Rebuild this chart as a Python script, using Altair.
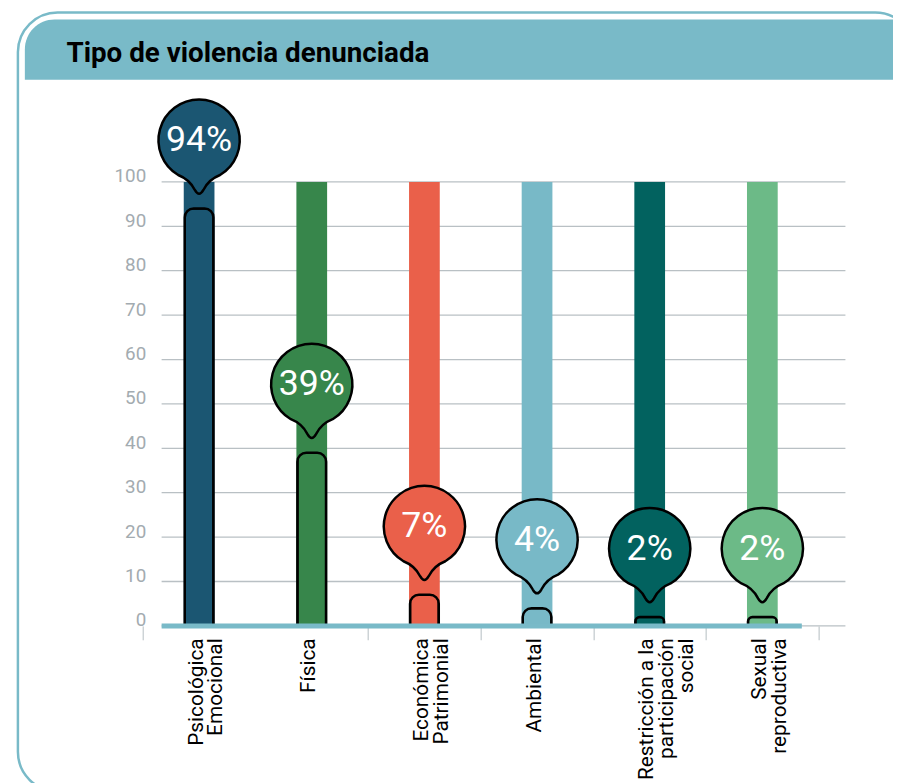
import math
import altair as alt
import pandas as pd

# ---------------- data ----------------
TITLE = "Tipo de violencia denunciada"
categories = [
    "Psicológica\nEmocional",
    "Física",
    "Económica\nPatrimonial",
    "Ambiental",
    "Restricción a la\nparticipación\nsocial",
    "Sexual\nreproductiva",
]
values = [94, 39, 7, 4, 2, 2]
value_labels = ["94%", "39%", "7%", "4%", "2%", "2%"]
colors = ["#1b5672", "#37864b", "#ea604a", "#78b9c7", "#02625f", "#6cba87"]
y_ticks = [0, 10, 20, 30, 40, 50, 60, 70, 80, 90, 100]

df = pd.DataFrame({"cat": categories, "value": values, "lab": value_labels})
grid_df = pd.DataFrame({"tick": y_ticks})

# ---------------- style ----------------
TEAL = "#79bac8"
LABEL_FONT = "Liberation Sans Narrow, Roboto, sans-serif"
PIN_FONT = "Liberation Sans Narrow, Roboto, sans-serif"


def pin_path():
    """Speech-bubble pin: circle with a drip-shaped tail ending at (0, ~1)."""
    R, cy = 0.854, -0.146
    a0 = math.radians(31)
    a1 = math.radians(360 - 31)
    n = 4
    d = (a1 - a0) / n
    k = 4.0 / 3.0 * math.tan(d / 4)

    def pt(a):
        return (R * math.sin(a), cy + R * math.cos(a))

    def der(a):
        return (R * math.cos(a), -R * math.sin(a))

    x0, y0 = pt(a0)
    parts = [f"M{x0:.4f},{y0:.4f}"]
    for i in range(n):
        s = a0 + i * d
        e = s + d
        p0, p3 = pt(s), pt(e)
        t0, t3 = der(s), der(e)
        p1 = (p0[0] + k * t0[0], p0[1] + k * t0[1])
        p2 = (p3[0] - k * t3[0], p3[1] - k * t3[1])
        parts.append(
            f"C{p1[0]:.4f},{p1[1]:.4f} {p2[0]:.4f},{p2[1]:.4f} {p3[0]:.4f},{p3[1]:.4f}"
        )
    parts.append("Q-0.20,0.68 -0.09,0.90")
    parts.append("Q0,1.06 0.09,0.90")
    parts.append(f"Q0.20,0.68 {x0:.4f},{y0:.4f}Z")
    return " ".join(parts)


PIN = pin_path()

color_scale = alt.Scale(domain=categories, range=colors)

x_enc = alt.X(
    "cat:N",
    sort=categories,
    scale=alt.Scale(range=[-19, 663], paddingInner=0, paddingOuter=0),
    axis=alt.Axis(
        title=None,
        labelAngle=-90,
        labelExpr="split(datum.label, '\\n')",
        labelFont=LABEL_FONT,
        labelFontSize=21,
        labelLineHeight=20,
        labelColor="black",
        labelPadding=-2,
        labelOffset=-3,
        labelOverlap=False,
        labelLimit=300,
        tickSize=14,
        tickColor="#cdd3d6",
        tickWidth=1.5,
        tickBand="extent",
        tickOpacity={"condition": {"test": "datum.index === 0", "value": 0}, "value": 1},
        domain=False,
        grid=False,
    ),
)

y_scale = alt.Scale(domain=[0, 100], nice=False)
y_axis = alt.Axis(
    title=None,
    values=y_ticks,
    domain=False,
    ticks=False,
    tickSize=0,
    grid=False,
    labelFont="Roboto",
    labelFontSize=19,
    labelColor="#a3abb0",
    labelPadding=16,
    labelBaseline="alphabetic",
)

one = pd.DataFrame({"t": [TITLE]})

frame = alt.Chart(one).mark_rect(
    cornerRadius=40, stroke=TEAL, strokeWidth=2.5, fillOpacity=0, fill="white"
).encode(
    x=alt.value(-145), x2=alt.value(760), y=alt.value(-171), y2=alt.value(615)
)

header = alt.Chart(one).mark_rect(
    cornerRadiusTopLeft=30, fill=TEAL
).encode(
    x=alt.value(-138), x2=alt.value(760), y=alt.value(-164), y2=alt.value(-103)
)

title = alt.Chart(one).mark_text(
    align="left", baseline="alphabetic", font="Roboto", fontSize=28,
    fontWeight="bold", color="black"
).encode(x=alt.value(-96), y=alt.value(-121), text="t:N")

gridlines = alt.Chart(grid_df).mark_rule(color="#b9c0c4", strokeWidth=1.3).encode(
    y=alt.Y("tick:Q", scale=y_scale, axis=y_axis),
    x=alt.value(0),
    x2=alt.value(690),
)

base = alt.Chart(df)

bg_bars = base.mark_bar(width=31).encode(
    x=x_enc,
    y=alt.Y(datum=100),
    y2=alt.Y2(datum=0),
    color=alt.Color("cat:N", scale=color_scale, legend=None),
)

fg_bars = base.mark_bar(
    width=29, cornerRadiusTopLeft=9, cornerRadiusTopRight=9,
    stroke="black", strokeWidth=2.5
).encode(
    x=alt.X("cat:N", sort=categories),
    y=alt.Y("value:Q"),
    color=alt.Color("cat:N", scale=color_scale, legend=None),
)

baseline = alt.Chart(one).mark_rule(color=TEAL, strokeWidth=5).encode(
    x=alt.value(0), x2=alt.value(646), y=alt.datum(0)
)

pins = base.mark_point(
    shape=PIN, size=9216, filled=True, opacity=1, strokeWidth=2.5, yOffset=-62
).encode(
    x=alt.X("cat:N", sort=categories),
    y=alt.Y("value:Q"),
    fill=alt.Color("cat:N", scale=color_scale, legend=None),
    stroke=alt.value("black"),
)

pin_text = base.mark_text(
    font=PIN_FONT, fontSize=36, color="white", baseline="middle", align="center",
    yOffset=-69
).encode(
    x=alt.X("cat:N", sort=categories),
    y=alt.Y("value:Q"),
    text="lab:N",
)

chart = alt.layer(
    frame, header, title, gridlines, bg_bars, fg_bars, baseline, pins, pin_text
).properties(
    width=690,
    height=448,
    autosize=alt.AutoSizeParams(type="none"),
    padding={"left": 155, "top": 172, "right": 48, "bottom": 155},
    background="white",
).configure_view(strokeWidth=0)

chart.save("out.html", embed_options={"renderer": "svg", "actions": False})
